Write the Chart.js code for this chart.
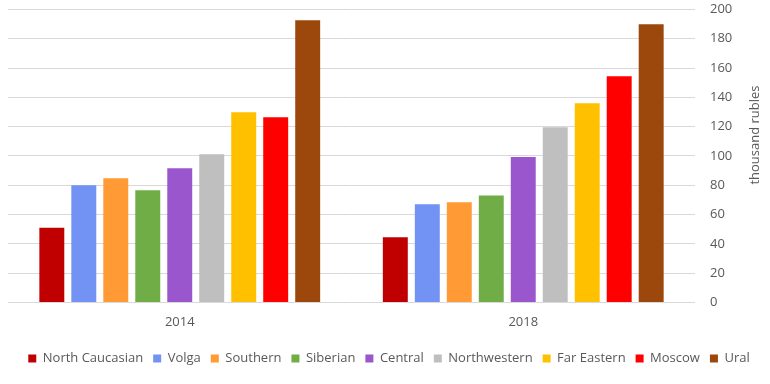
<!DOCTYPE html>
<html><head><meta charset="utf-8">
<script src="https://cdn.jsdelivr.net/npm/chart.js@4.4.0/dist/chart.umd.min.js"></script>
<style>html,body{margin:0;padding:0;background:#fff}#wrap{width:770px;height:384px}</style>
</head><body><div id="wrap"><canvas id="c" width="770" height="384"></canvas></div>
<script>
const categories = ["2014", "2018"];
const regions = ["North Caucasian","Volga","Southern","Siberian","Central","Northwestern","Far Eastern","Moscow","Ural"];
const northCaucasian = [51, 44.5];
const volga = [80, 67];
const southern = [84.7, 68.3];
const siberian = [76.5, 73];
const central = [91.6, 99.2];
const northwestern = [101.2, 119.6];
const farEastern = [129.8, 136];
const moscow = [126.4, 154.5];
const ural = [192.7, 190];
const yTicks = [0,20,40,60,80,100,120,140,160,180,200];
const axisTitle = "thousand rubles";

const seriesValues = [northCaucasian, volga, southern, siberian, central, northwestern, farEastern, moscow, ural];
const colors = ["#C00000","#7292F4","#FF9A35","#70AD47","#9A57CD","#BFBFBF","#FFC000","#FF0000","#9C470C"];
const FONT = "'Open Sans', sans-serif";
const TXT = "#595959";

const titlePlugin = {
  id: 'rotTitle',
  afterDraw(chart) {
    const ctx = chart.ctx;
    ctx.save();
    ctx.translate(755, 135);
    ctx.rotate(-Math.PI/2);
    ctx.font = "13px " + FONT;
    ctx.fillStyle = TXT;
    ctx.textAlign = 'center';
    ctx.textBaseline = 'middle';
    ctx.fillText(axisTitle, 0, 0);
    ctx.restore();
  }
};

new Chart(document.getElementById('c'), {
  type: 'bar',
  data: {
    labels: categories,
    datasets: regions.map((r, i) => ({
      label: r,
      data: seriesValues[i],
      backgroundColor: colors[i],
      borderWidth: 0,
      categoryPercentage: 0.838,
      barPercentage: 0.78
    }))
  },
  options: {
    responsive: false,
    animation: false,
    devicePixelRatio: 1,
    layout: { padding: { left: 8, top: 9.5, right: 0, bottom: 9 } },
    plugins: {
      legend: {
        position: 'bottom',
        labels: {
          boxWidth: 8, boxHeight: 8, padding: 10,
          color: TXT,
          font: { family: FONT, size: 13 }
        }
      },
      tooltip: { enabled: false }
    },
    scales: {
      x: {
        grid: { display: false, drawTicks: false },
        border: { display: false },
        ticks: { color: TXT, font: { family: FONT, size: 13 }, padding: 12 }
      },
      y: {
        position: 'right',
        min: 0, max: 200,
        afterBuildTicks(scale) { scale.ticks = yTicks.map(v => ({ value: v })); },
        afterFit(scale) { scale.width = 75; scale.paddingTop = 0; scale.paddingBottom = 0; },
        grid: { color: '#D9D9D9', lineWidth: 1, drawTicks: false },
        border: { display: false },
        ticks: { color: TXT, font: { family: FONT, size: 13 }, padding: 15 }
      }
    }
  },
  plugins: [titlePlugin]
});
</script></body></html>
